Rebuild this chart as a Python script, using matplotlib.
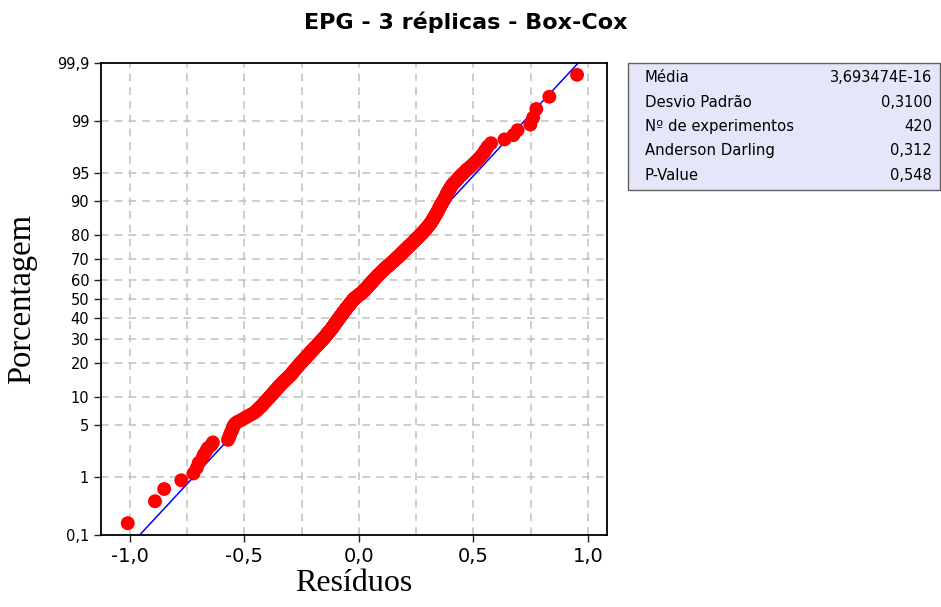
import matplotlib
matplotlib.use('Agg')
import numpy as np
import matplotlib.pyplot as plt
from statistics import NormalDist

titulo = "EPG - 3 réplicas - Box-Cox"

# residuos ordenados (Box-Cox, 3 replicas)
residuos = [
    -1.010, -0.891, -0.851, -0.776, -0.723, -0.708, -0.700, -0.685, -0.678, -0.668,
    -0.660, -0.645, -0.638, -0.572, -0.567, -0.564, -0.560, -0.556, -0.552, -0.549,
    -0.546, -0.540, -0.530, -0.515, -0.503, -0.492, -0.480, -0.468, -0.458, -0.450,
    -0.444, -0.439, -0.433, -0.427,
    -0.422, -0.418, -0.413, -0.409, -0.404, -0.400, -0.395,
    -0.391, -0.387, -0.383, -0.379, -0.375, -0.372, -0.368,
    -0.364, -0.361, -0.357, -0.354, -0.350, -0.347, -0.343, -0.340, -0.336,
    -0.333, -0.329, -0.326, -0.322, -0.318, -0.315, -0.311, -0.308, -0.304, -0.300,
    -0.297, -0.295, -0.292, -0.290, -0.287, -0.284, -0.282, -0.279, -0.277, -0.274,
    -0.271, -0.269, -0.266, -0.264, -0.261, -0.259, -0.256, -0.254, -0.251, -0.249, -0.246, -0.244,
    -0.241, -0.239, -0.236, -0.234, -0.231, -0.229, -0.226, -0.224, -0.221, -0.219, -0.216, -0.214, -0.212,
    -0.210, -0.207, -0.205, -0.203, -0.200, -0.198, -0.196, -0.193, -0.191, -0.189, -0.186, -0.184, -0.182,
    -0.179, -0.177, -0.175, -0.173, -0.171, -0.169, -0.167, -0.165, -0.162, -0.160, -0.158, -0.156, -0.154, -0.152, -0.150,
    -0.148, -0.146, -0.145, -0.143, -0.141, -0.139, -0.137, -0.135, -0.134, -0.132, -0.130, -0.128, -0.126, -0.124, -0.122,
    -0.121, -0.119, -0.118, -0.116, -0.115, -0.113, -0.112, -0.110, -0.109, -0.107, -0.106, -0.104, -0.103, -0.101, -0.100,
    -0.098, -0.097, -0.095, -0.094, -0.092, -0.091, -0.089, -0.088, -0.086, -0.085, -0.083, -0.082, -0.080, -0.079, -0.077, -0.076, -0.074,
    -0.073, -0.071, -0.070, -0.068, -0.067, -0.065, -0.064, -0.062, -0.061, -0.059, -0.058, -0.056, -0.055, -0.053, -0.052, -0.050,
    -0.048, -0.046, -0.045, -0.043, -0.042, -0.040, -0.039, -0.037, -0.035, -0.034, -0.032, -0.031, -0.029, -0.028, -0.026, -0.025, -0.023,
    -0.021, -0.018, -0.016, -0.013, -0.011, -0.008, -0.006, -0.003, -0.001, 0.002, 0.004, 0.007, 0.009, 0.012, 0.014, 0.017, 0.019,
    0.021, 0.023, 0.025, 0.027, 0.028, 0.030, 0.032, 0.034, 0.036, 0.038, 0.039, 0.041, 0.043, 0.045, 0.047, 0.049,
    0.050, 0.052, 0.054, 0.056, 0.058, 0.059, 0.061, 0.063, 0.065, 0.067, 0.069, 0.070, 0.072, 0.074, 0.076, 0.078, 0.080,
    0.082, 0.084, 0.086, 0.088, 0.091, 0.093, 0.095, 0.097, 0.099, 0.101, 0.104, 0.106, 0.108, 0.110, 0.112,
    0.115, 0.117, 0.120, 0.122, 0.125, 0.127, 0.130, 0.132, 0.135, 0.137, 0.140, 0.142, 0.145, 0.147, 0.150, 0.152,
    0.155, 0.157, 0.160, 0.162, 0.165, 0.167, 0.170, 0.172, 0.175, 0.177, 0.180, 0.182, 0.185, 0.187,
    0.189, 0.191, 0.194, 0.196, 0.199, 0.201, 0.204, 0.206, 0.209, 0.211, 0.214, 0.216, 0.219, 0.221,
    0.225, 0.227, 0.230, 0.232, 0.235, 0.238, 0.240, 0.243, 0.245, 0.248, 0.251, 0.253,
    0.256, 0.259, 0.262, 0.265, 0.267, 0.270, 0.273, 0.276, 0.279, 0.281, 0.284, 0.287,
    0.290, 0.292, 0.295, 0.297, 0.300, 0.302, 0.305, 0.307, 0.310, 0.312, 0.315,
    0.317, 0.319, 0.321, 0.323, 0.325, 0.327, 0.329, 0.331, 0.333,
    0.336, 0.338, 0.340, 0.342, 0.344, 0.346, 0.348, 0.350, 0.352,
    0.354, 0.356, 0.359, 0.361, 0.364, 0.366, 0.369, 0.372,
    0.374, 0.377, 0.379, 0.381, 0.384, 0.386,
    0.389, 0.392, 0.396, 0.399, 0.403, 0.406,
    0.411, 0.417, 0.424, 0.430, 0.436,
    0.442, 0.450, 0.458, 0.466, 0.474,
    0.485, 0.495, 0.505,
    0.515, 0.525, 0.535,
    0.545, 0.553, 0.562,
    0.577, 0.636, 0.675, 0.693, 0.749, 0.761, 0.775, 0.832, 0.953,
]

# quadro de estatisticas
media = 3.693474e-16
desvio = 0.3100
estat_nomes = ["Média", "Desvio Padrão", "Nº de experimentos", "Anderson Darling", "P-Value"]
estat_valores = ["3,693474E-16", "0,3100", "420", "0,312", "0,548"]

pct_ticks = [0.1, 1, 5, 10, 20, 30, 40, 50, 60, 70, 80, 90, 95, 99, 99.9]
pct_labels = ["0,1", "1", "5", "10", "20", "30", "40", "50", "60", "70", "80", "90", "95", "99", "99,9"]
x_ticks = [-1.0, -0.5, 0.0, 0.5, 1.0]
x_labels = ["-1,0", "-0,5", "0,0", "0,5", "1,0"]


def main():
    nd = NormalDist()
    r = np.sort(np.array(residuos))
    n = len(r)
    # posicoes de Benard (i - 0.3) / (n + 0.4)
    pos = [(i - 0.3) / (n + 0.4) for i in range(1, n + 1)]
    z = np.array([nd.inv_cdf(p) for p in pos])

    zlim = nd.inv_cdf(0.999)

    fig = plt.figure(figsize=(9.41, 6.07), dpi=100)
    ax = fig.add_axes([0.1073, 0.1186, 0.5378, 0.7776])

    # reta normal ajustada
    zl = np.array([-zlim, zlim])
    ax.plot(media + desvio * zl, zl, color="#0000ff", lw=1.1, zorder=2)
    ax.scatter(r, z, s=100, color="#ff0000", edgecolors="none", zorder=3)

    ax.set_xlim(-1.127, 1.084)
    ax.set_ylim(-zlim, zlim)

    yt = [nd.inv_cdf(p / 100.0) for p in pct_ticks]
    ax.set_yticks(yt)
    ax.set_yticklabels(pct_labels, fontsize=10.5, family="DejaVu Sans")
    ax.set_xticks(x_ticks)
    ax.set_xticks(np.arange(-1.0, 1.01, 0.25), minor=True)
    ax.set_xticklabels(x_labels, fontsize=14, family="DejaVu Sans")
    ax.tick_params(axis="x", which="minor", length=0)
    ax.tick_params(axis="both", which="major", direction="out", length=5, width=1, color="#202020")

    gkw = dict(color="#c0c0c0", lw=1.1, dashes=(5, 4))
    for v in np.arange(-1.0, 1.01, 0.25):
        ax.axvline(v, zorder=0, **gkw)
    for v in yt[1:-1]:
        ax.axhline(v, zorder=0, **gkw)

    for s in ax.spines.values():
        s.set_linewidth(1.3)
        s.set_color("black")

    ax.set_xlabel("Resíduos", fontsize=23, family="Liberation Serif", labelpad=2)
    ax.set_ylabel("Porcentagem", fontsize=23.5, family="Liberation Serif", labelpad=14)
    fig.text(0.495, 0.963, titulo, ha="center", va="center", fontsize=16,
             fontweight="bold", family="DejaVu Sans")

    # quadro com as estatisticas
    bx0, by0, bw, bh = 628 / 941.0, 1 - 190 / 607.0, 312 / 941.0, 127 / 607.0
    fig.patches.append(plt.Rectangle((bx0, by0), bw, bh, transform=fig.transFigure,
                                     facecolor="#e6e6fa", edgecolor="#606060", lw=1.0))
    for k, (nome, val) in enumerate(zip(estat_nomes, estat_valores)):
        yy = 1 - (78 + k * 24.3) / 607.0
        fig.text(645 / 941.0, yy, nome, ha="left", va="center", fontsize=10.7, family="DejaVu Sans")
        fig.text(932 / 941.0, yy, val, ha="right", va="center", fontsize=10.5, family="DejaVu Sans")

    fig.savefig("out.png", dpi=100)


if __name__ == '__main__':
    main()
